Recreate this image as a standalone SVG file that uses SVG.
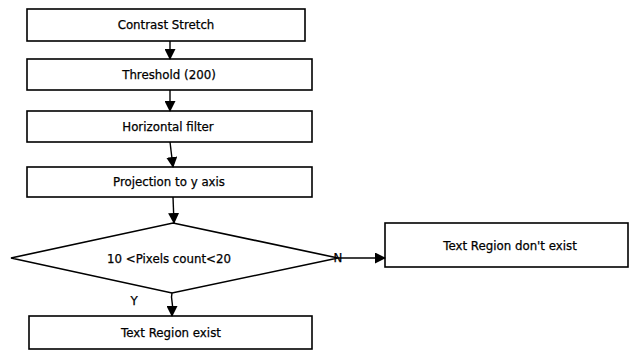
<svg xmlns="http://www.w3.org/2000/svg" width="633" height="356" viewBox="0 0 633 356">
<style>
.box{fill:#fff;stroke:#000;stroke-width:1.6}
.t{font-family:"DejaVu Sans","Liberation Sans",sans-serif;font-size:11.8px;fill:#000;stroke:#000;stroke-width:0.25;text-anchor:middle}
.c{fill:none;stroke:#000;stroke-width:1.4}
</style>
<defs>
<marker id="ah" markerWidth="11" markerHeight="11" refX="10" refY="5.5" orient="auto" markerUnits="userSpaceOnUse">
<path d="M0,0 L11,5.5 L0,11 z" fill="#000"/>
</marker>
</defs>
<rect width="633" height="356" fill="#fff"/>
<g id="n1"><rect class="box" x="27" y="9" width="278" height="32"/><text class="t" x="166" y="29">Contrast Stretch</text></g>
<g id="n2"><rect class="box" x="27" y="59" width="285" height="31"/><text class="t" x="169" y="79">Threshold (200)</text></g>
<g id="n3"><rect class="box" x="27" y="111" width="285" height="31"/><text class="t" x="168" y="131">Horizontal filter</text></g>
<g id="n4"><rect class="box" x="27" y="167" width="285" height="30"/><text class="t" x="169" y="186">Projection to y axis</text></g>
<g id="n5"><polygon class="box" points="173,223 338,258 172,293 11,258"/><text class="t" x="169" y="263">10 &lt;Pixels count&lt;20</text></g>
<g id="n6"><rect class="box" x="385" y="223" width="243" height="44"/><text class="t" x="510" y="250">Text Region don't exist</text></g>
<g id="n7"><rect class="box" x="29" y="316" width="283" height="33"/><text class="t" x="171" y="337">Text Region exist</text></g>
<g id="connectors">
<line class="c" x1="170" y1="41" x2="170" y2="59" marker-end="url(#ah)"/>
<line class="c" x1="170" y1="90" x2="170" y2="111" marker-end="url(#ah)"/>
<line class="c" x1="170" y1="142" x2="173" y2="167" marker-end="url(#ah)"/>
<line class="c" x1="173" y1="197" x2="174" y2="223" marker-end="url(#ah)"/>
<path class="c" d="M172,293 C170,300 174,304 172,308 L172,316" marker-end="url(#ah)"/>
<line class="c" x1="338" y1="258" x2="385" y2="258" marker-end="url(#ah)"/>
<text class="t" x="338" y="262">N</text>
<text class="t" x="134" y="305">Y</text>
</g>
</svg>
